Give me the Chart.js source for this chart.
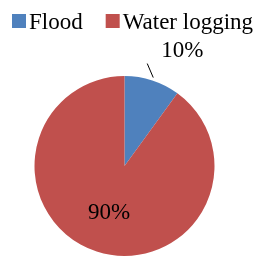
<!DOCTYPE html>
<html>
<head>
<meta charset="utf-8">
<script src="https://cdn.jsdelivr.net/npm/chart.js@4"></script>
<style>
  html, body { margin: 0; padding: 0; background: #fff; }
  #wrap { width: 258px; height: 260px; }
</style>
</head>
<body>
<div id="wrap"><canvas id="pieChart" width="258" height="260"></canvas></div>
<script>
// data
const categories = ['Flood', 'Water logging'];
const shares = [10, 90];
const sliceColors = ['#4F81BD', '#C0504D'];
const pctLabels = ['10%', '90%'];

const serif = '"Liberation Serif", "Times New Roman", serif';

// legend drawn by hand so the box/text gap matches the original
const topLegend = {
    id: 'topLegend',
    afterDraw(chart) {
        const ctx = chart.ctx;
        ctx.save();
        ctx.font = '23px ' + serif;
        ctx.textBaseline = 'alphabetic';
        let x = 12;
        const base = 28.5;
        chart.data.labels.forEach((lbl, i) => {
            ctx.fillStyle = chart.data.datasets[0].backgroundColor[i];
            ctx.fillRect(x, base - 14.5, 14, 14);
            ctx.fillStyle = '#000';
            ctx.fillText(lbl, x + 17, base);
            x += 17 + ctx.measureText(lbl).width + 23;
        });
        ctx.restore();
    }
};

// percentage labels: big slice inside, small slice outside with leader line
const sliceLabels = {
    id: 'sliceLabels',
    afterDatasetsDraw(chart) {
        const ctx = chart.ctx;
        const meta = chart.getDatasetMeta(0);
        ctx.save();
        ctx.font = '23px ' + serif;
        ctx.fillStyle = '#000';
        meta.data.forEach((arc, i) => {
            const p = arc.getProps(['x', 'y', 'startAngle', 'endAngle', 'outerRadius'], true);
            const mid = (p.startAngle + p.endAngle) / 2;
            const dx = Math.cos(mid), dy = Math.sin(mid);
            if (shares[i] < 20) {
                const sx = p.x + dx * (p.outerRadius + 3);
                const sy = p.y + dy * (p.outerRadius + 3);
                const ex = sx - 6, ey = sy - 14;
                ctx.strokeStyle = '#000';
                ctx.lineWidth = 1;
                ctx.beginPath();
                ctx.moveTo(sx, sy);
                ctx.lineTo(ex, ey);
                ctx.stroke();
                ctx.textAlign = 'left';
                ctx.textBaseline = 'alphabetic';
                ctx.fillText(pctLabels[i], ex + 14, ey - 6.5);
            } else {
                ctx.textAlign = 'center';
                ctx.textBaseline = 'middle';
                ctx.fillText(pctLabels[i], p.x + dx * p.outerRadius * 0.55, p.y + dy * p.outerRadius * 0.55);
            }
        });
        ctx.restore();
    }
};

new Chart(document.getElementById('pieChart').getContext('2d'), {
    type: 'pie',
    data: {
        labels: categories,
        datasets: [{ data: shares, backgroundColor: sliceColors, borderWidth: 0 }]
    },
    options: {
        responsive: false,
        animation: false,
        layout: { padding: { top: 76, bottom: 4, left: 34.5, right: 43.5 } },
        plugins: {
            legend: { display: false },
            tooltip: { enabled: false }
        }
    },
    plugins: [topLegend, sliceLabels]
});
</script>
</body>
</html>
